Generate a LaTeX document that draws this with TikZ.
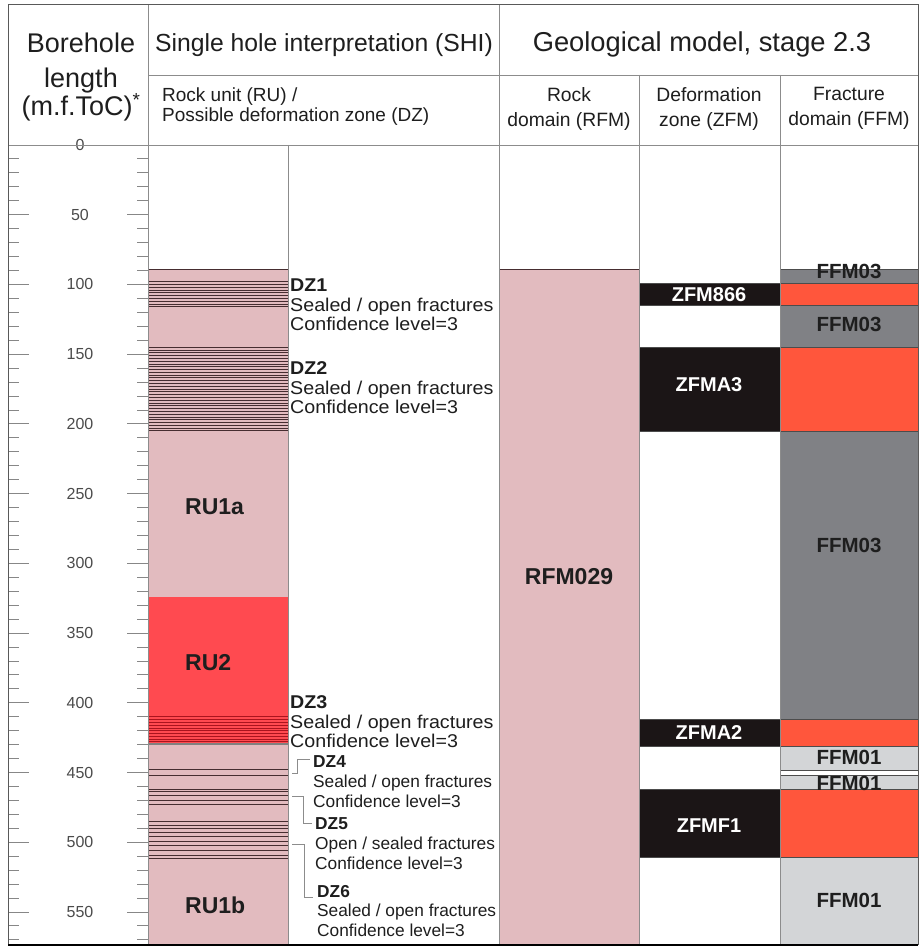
\documentclass[tikz,border=0pt]{standalone}
\usepackage{fontspec}
\setmainfont{Liberation Sans}
\newfontfamily\widesans[FakeStretch=1.063]{Liberation Sans}
\definecolor{rockpink}{RGB}{226,187,191}
\definecolor{rured}{RGB}{255,74,80}
\definecolor{zonered}{RGB}{255,86,60}
\definecolor{ffmgray}{RGB}{128,129,133}
\definecolor{ffmlight}{RGB}{211,213,215}
\definecolor{zoneblack}{RGB}{27,21,22}
\definecolor{gridgray}{RGB}{140,140,140}
\definecolor{tickgray}{RGB}{135,135,135}
\definecolor{scaletext}{RGB}{75,75,75}
\definecolor{stripedark}{RGB}{70,45,48}
\definecolor{stripered}{RGB}{170,20,30}
\definecolor{inktext}{RGB}{30,30,30}
\begin{document}
\begin{tikzpicture}[x=1pt,y=-1pt,
  gridline/.style={draw=gridgray,line width=0.9pt},
  tickline/.style={draw=tickgray,line width=0.9pt},
  stripe/.style={draw=stripedark,line width=0.8pt},
  redstripe/.style={draw=stripered,line width=0.8pt},
  band/.style={draw=black!70,line width=0.6pt},
  bracket/.style={draw=gridgray,line width=0.8pt},
  scalelbl/.style={inner sep=0pt,text=scaletext,font=\fontsize{16}{16}\selectfont},
  dzlbl/.style={anchor=north west,align=left,inner sep=0pt,text=inktext,font=\widesans\fontsize{18.5}{19.7}\selectfont},
  dzsmall/.style={anchor=north west,align=left,inner sep=0pt,text=inktext,font=\fontsize{17.3}{19.7}\selectfont},
  unitlbl/.style={inner sep=0pt,text=inktext,font=\bfseries\fontsize{23}{23}\selectfont},
  zonelbl/.style={inner sep=0pt,text=white,font=\bfseries\fontsize{20}{20}\selectfont},
  ffmlbl/.style={inner sep=0pt,text=inktext,font=\bfseries\fontsize{20.5}{20.5}\selectfont},
  subhdr/.style={inner sep=0pt,text=inktext,align=center,font=\fontsize{19.3}{25}\selectfont}]
\useasboundingbox (0,0) rectangle (923,949);
\fill[white] (0,0) rectangle (923,949);

% ---------- columns in depth units (metres along the borehole) ----------
\begin{scope}[yshift=-145pt,y=-1.3945pt]
  % rock units
  \fill[rockpink] (148,89) rectangle (288,574);
  \fill[rured] (148,324) rectangle (288,430);
  \draw[stripe] (148,89) -- (288,89);
  % DZ1 and DZ2 fracture stripes
  \foreach \d in {98,100,...,116} \draw[stripe] (148,\d) -- (288,\d);
  \foreach \d in {145,147,...,205} \draw[stripe] (148,\d) -- (288,\d);
  % DZ3 stripes in the red unit
  \foreach \d in {410,412,...,428} \draw[redstripe] (148,\d) -- (288,\d);
  \draw[draw=gray,line width=2pt] (148,429.8) -- (288,429.8);
  % DZ4 - DZ6 stripes
  \foreach \d in {447.5,451.8} \draw[stripe] (148,\d) -- (288,\d);
  \foreach \d in {462,463.7,466.1,469.7,472.6} \draw[stripe] (148,\d) -- (288,\d);
  \foreach \d in {485.3,487.6,490,493.1,496,499.1,502,505.6,509.2,511.5} \draw[stripe] (148,\d) -- (288,\d);

  % rock domain
  \fill[rockpink] (499,89) rectangle (639,574);
  \draw[stripe] (499,89) -- (639,89);

  % deformation zones
  \foreach \a/\b in {99/115,145/205,412/431,462/511}
    \filldraw[fill=zoneblack,band] (639,\a) rectangle (780,\b);

  % fracture domains
  \filldraw[fill=ffmgray,band] (780,89) rectangle (918,99);
  \filldraw[fill=zonered,band] (780,99) rectangle (918,115);
  \filldraw[fill=ffmgray,band] (780,115) rectangle (918,145);
  \filldraw[fill=zonered,band] (780,145) rectangle (918,205);
  \filldraw[fill=ffmgray,band] (780,205) rectangle (918,412);
  \filldraw[fill=zonered,band] (780,412) rectangle (918,431);
  \filldraw[fill=ffmlight,band] (780,431) rectangle (918,448.2);
  \filldraw[fill=ffmlight,band] (780,451.8) rectangle (918,462);
  \filldraw[fill=zonered,band] (780,462) rectangle (918,511);
  \fill[ffmlight] (780,511) rectangle (918,574);
  \draw[band] (780,511) -- (918,511);

  % depth scale ticks
  \foreach \d in {10,20,...,570}{
    \pgfmathtruncatemacro{\r}{mod(\d,50)}
    \ifnum\r=0
      \draw[tickline] (8,\d) -- ++(21,0);
      \draw[tickline] (148,\d) -- ++(-21,0);
    \else
      \draw[tickline] (8,\d) -- ++(11,0);
      \draw[tickline] (148,\d) -- ++(-11,0);
    \fi}
  \foreach \d in {0,50,...,550}
    \node[scalelbl] (depth\d) at (80,\d) {\d};

  % unit and zone names
  \node[unitlbl,anchor=west] (ru1a) at (185,259.6) {RU1a};
  \node[unitlbl,anchor=west] (ru2) at (185,371.5) {RU2};
  \node[unitlbl,anchor=west] (ru1b) at (185,545) {RU1b};
  \node[unitlbl] (rfm029) at (569,309.8) {RFM029};
  \node[zonelbl] (zfm866) at (709,107) {ZFM866};
  \node[zonelbl] (zfma3) at (709,172) {ZFMA3};
  \node[zonelbl] (zfma2) at (709,421) {ZFMA2};
  \node[zonelbl] (zfmf1) at (709,488) {ZFMF1};
  \node[ffmlbl] (ffm03a) at (849,91) {FFM03};
  \node[ffmlbl] (ffm03b) at (849,129) {FFM03};
  \node[ffmlbl] (ffm03c) at (849,287) {FFM03};
  \node[ffmlbl] (ffm01a) at (849,439) {FFM01};
  \node[ffmlbl] (ffm01b) at (849,457.5) {FFM01};
  \node[ffmlbl] (ffm01c) at (849,541.4) {FFM01};
\end{scope}

% ---------- table frame ----------
\draw[gridline] (148,5) -- (148,945);
\draw[gridline] (499,5) -- (499,945);
\draw[gridline] (148,75) -- (918,75);
\draw[gridline] (8,145) -- (918,145);
\draw[gridline] (288,145) -- (288,945);
\draw[gridline] (639,75) -- (639,945);
\draw[gridline] (780,75) -- (780,945);
\draw[draw=black!65,line width=1pt] (8,945) -- (8,5) -- (918,5) -- (918,945);
\draw[draw=black,line width=2pt] (8,945) -- (918,945);

% ---------- headings ----------
\node[anchor=north,align=center,inner sep=0pt,text=inktext,font=\fontsize{27}{31}\selectfont]
  (hdrlen) at (81,33) {Borehole\\[3.5pt]length\\[-3pt](m.f.ToC)\textsuperscript{*}};
\node[anchor=base,inner sep=0pt,text=inktext,font=\fontsize{24.7}{24.7}\selectfont]
  (hdrshi) at (324,52) {Single hole interpretation (SHI)};
\node[anchor=base,inner sep=0pt,text=inktext,font=\fontsize{27.3}{27.3}\selectfont]
  (hdrgeo) at (702,52) {Geological model, stage 2.3};
\node[anchor=north west,align=left,inner sep=0pt,text=inktext,font=\fontsize{19}{20}\selectfont]
  (hdrru) at (162,87.5) {Rock unit (RU) /\\Possible deformation zone (DZ)};
\node[subhdr,anchor=north] (hdrrfm) at (569,87.5) {Rock\\domain (RFM)};
\node[subhdr,anchor=north] (hdrzfm) at (709,87.5) {Deformation\\zone (ZFM)};
\node[subhdr,anchor=north] (hdrffm) at (849,87.5) {Fracture\\domain (FFM)};

% ---------- deformation zone notes ----------
\node[dzlbl] (dz1) at (290,278.4) {\textbf{DZ1}\\Sealed / open fractures\\Confidence level=3};
\node[dzlbl] (dz2) at (290,361.4) {\textbf{DZ2}\\Sealed / open fractures\\Confidence level=3};
\node[dzlbl] (dz3) at (290,695.4) {\textbf{DZ3}\\Sealed / open fractures\\Confidence level=3};
\node[dzsmall] (dz4) at (313,755.8) {\textbf{DZ4}\\Sealed / open fractures\\Confidence level=3};
\node[dzsmall] (dz5) at (315,817.8) {\textbf{DZ5}\\Open / sealed fractures\\Confidence level=3};
\node[dzsmall] (dz6) at (317,884.8) {\textbf{DZ6}\\Sealed / open fractures\\Confidence level=3};

% brackets tying the small notes to their stripe sets
\coordinate (b4) at (292,773);
\coordinate (b5) at (292,796);
\coordinate (b6) at (292,844);
\draw[bracket] (b4) -- ++(5,0) |- ([xshift=-3pt,yshift=-3.2pt]dz4.north west);
\draw[bracket] (b5) -- ++(11,0) |- ([xshift=-3pt,yshift=-5.2pt]dz5.north west);
\draw[bracket] (b6) -- ++(12,0) |- ([xshift=-4pt,yshift=-12.2pt]dz6.north west);
\end{tikzpicture}
\end{document}
